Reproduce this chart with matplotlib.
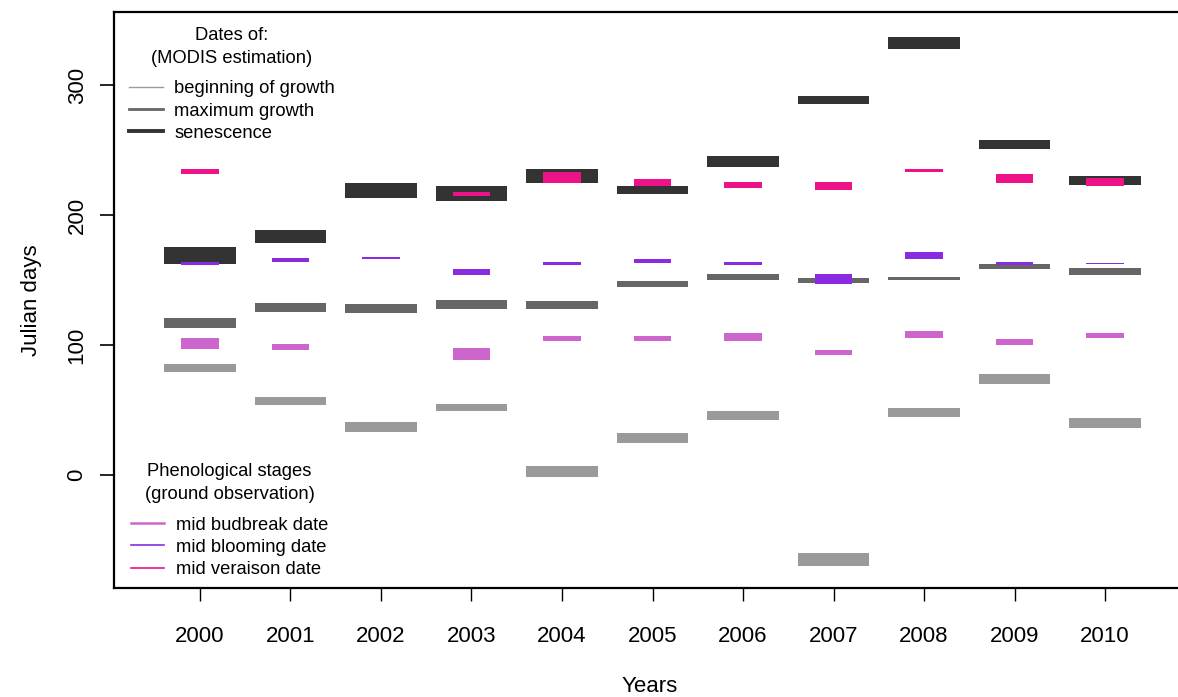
import matplotlib
matplotlib.use("Agg")
import numpy as np
import matplotlib.pyplot as plt
from matplotlib.lines import Line2D

plt.rcParams['font.family'] = ['Liberation Sans', 'DejaVu Sans']

years = [2000, 2001, 2002, 2003, 2004, 2005, 2006, 2007, 2008, 2009, 2010]

# MODIS estimation (low, high) in julian days
begin_lo = [79.2, 53.8, 33.1, 49.2, -1.5, 24.6, 42.3, -70.0, 44.6, 70.0, 36.2]
begin_hi = [85.4, 60.0, 40.8, 54.6, 6.9, 32.3, 49.2, -60.0, 51.5, 77.7, 43.8]
maxgr_lo = [113.1, 125.4, 124.6, 127.7, 127.7, 144.6, 150.0, 147.7, 150.0, 158.5, 153.8]
maxgr_hi = [120.8, 132.3, 131.5, 134.6, 133.8, 149.2, 154.6, 151.5, 152.3, 162.3, 159.2]
senes_lo = [162.3, 178.5, 213.1, 210.8, 224.6, 216.2, 236.9, 285.4, 327.7, 250.8, 223.1]
senes_hi = [175.4, 188.5, 224.6, 222.3, 235.4, 222.3, 245.4, 291.5, 336.9, 257.7, 230.0]

# ground observation (low, high); None where no observation
budb_lo = [96.9, 96.2, None, 88.5, 103.1, 103.1, 103.1, 92.3, 105.4, 100.0, 105.4]
budb_hi = [105.4, 100.8, None, 97.7, 106.9, 106.9, 109.2, 96.2, 110.8, 104.6, 109.2]
bloom_lo = [161.5, 163.8, 166.2, 153.8, 161.5, 163.1, 161.5, 146.9, 166.2, 161.5, 162.3]
bloom_hi = [163.8, 166.9, 167.7, 158.5, 163.8, 166.2, 163.8, 154.6, 171.5, 163.8, 163.1]
verai_lo = [231.5, None, None, 214.6, 224.6, 222.3, 220.8, 219.2, 233.1, 224.6, 222.3]
verai_hi = [235.4, None, None, 217.7, 233.1, 227.7, 225.4, 225.4, 235.4, 231.5, 228.5]

modis_labels = ["beginning of growth", "maximum growth", "senescence"]
modis_colors = ["#9a9a9a", "#666666", "#333333"]
ground_labels = ["mid budbreak date", "mid blooming date", "mid veraison date"]
ground_colors = ["#cc66cc", "#8a2be2", "#ee1289"]


def draw_bars(ax, lo, hi, color, width):
    xs = [x for x, a in zip(years, lo) if a is not None]
    bottoms = [a for a in lo if a is not None]
    heights = [b - a for a, b in zip(lo, hi) if a is not None]
    ax.bar(xs, heights, bottom=bottoms, width=width, color=color, linewidth=0)


fig = plt.figure(figsize=(11.78, 6.97), dpi=100)
ax = fig.add_axes([114 / 1178, 1 - 588 / 697, 1077 / 1178, 576 / 697])

for lo, hi, c in zip([begin_lo, maxgr_lo, senes_lo], [begin_hi, maxgr_hi, senes_hi], modis_colors):
    draw_bars(ax, lo, hi, c, 0.79)
for lo, hi, c in zip([budb_lo, bloom_lo, verai_lo], [budb_hi, bloom_hi, verai_hi], ground_colors):
    draw_bars(ax, lo, hi, c, 0.41)

ax.set_xlim(1999.05, 2010.95)
ax.set_ylim(-86.9, 356.2)
ax.set_xticks(years)
ax.set_xticklabels([str(y) for y in years])
ax.set_yticks([0, 100, 200, 300])
ax.tick_params(axis='x', length=9, width=1, pad=18, labelsize=16)
ax.tick_params(axis='y', length=10, width=1.2, pad=9, labelsize=16)
for lab in ax.get_yticklabels():
    lab.set_rotation(90)
    lab.set_va('center')
for sp in ax.spines.values():
    sp.set_linewidth(1.6)

fig.text(31 / 1178, 1 - 300 / 697, "Julian days", rotation=90, ha='center', va='center', fontsize=16)
fig.text(650 / 1178, 1 - 687 / 697, "Years", ha='center', va='center', fontsize=16)

h1 = [Line2D([], [], color=c, lw=w) for c, w in zip(modis_colors, [1.0, 2.0, 2.8])]
leg1 = ax.legend(h1, modis_labels, title="Dates of:\n(MODIS estimation)", loc='upper left',
                 bbox_to_anchor=(0.0, 1.0), frameon=False, fontsize=13.2, title_fontsize=13.2,
                 handlelength=1.85, handletextpad=0.65, labelspacing=0.28, borderaxespad=0.4)
leg1.get_title().set_multialignment('center')
leg1.get_title().set_linespacing(1.45)
leg1._legend_box.sep = 10
ax.add_artist(leg1)

h2 = [Line2D([], [], color=c, lw=w) for c, w in zip(ground_colors, [1.8, 1.2, 1.2])]
leg2 = ax.legend(h2, ground_labels, title="Phenological stages\n(ground observation)", loc='lower left',
                 bbox_to_anchor=(0.006, 0.0), frameon=False, fontsize=13.2, title_fontsize=13.2,
                 handlelength=1.85, handletextpad=0.65, labelspacing=0.28, borderaxespad=0.15)
leg2.get_title().set_multialignment('center')
leg2.get_title().set_linespacing(1.45)
leg2._legend_box.sep = 10

fig.savefig("out.png", dpi=100)
